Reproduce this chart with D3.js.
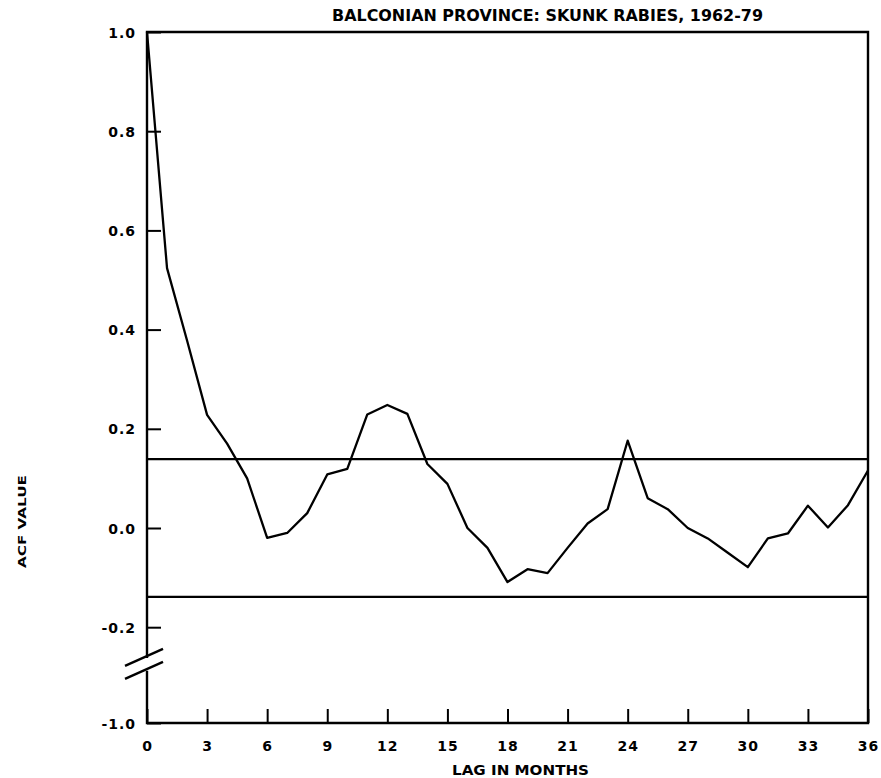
<!DOCTYPE html>
<meta charset="utf-8">
<script type="text/javascript" src="https://cdn.jsdelivr.net/npm/d3@7/dist/d3.min.js"></script>
<style>
    body { margin: 0; background: white; }
    .line { stroke: black; stroke-width: 2.3; fill: none; stroke-linejoin: round; }
    .frame { stroke: black; stroke-width: 2.4; fill: none; }
    .lab { font-family: "DejaVu Sans", sans-serif; font-weight: bold; fill: black; }
</style>
<body>
<script>

    // lag (months) and autocorrelation
    var lags = [0, 1, 2, 3, 4, 5, 6, 7, 8, 9, 10, 11, 12, 13, 14, 15, 16, 17, 18,
                19, 20, 21, 22, 23, 24, 25, 26, 27, 28, 29, 30, 31, 32, 33, 34, 35, 36]
    var acf = [1.0, 0.524, 0.378, 0.228, 0.170, 0.100, -0.020, -0.010, 0.030, 0.108,
               0.119, 0.229, 0.248, 0.230, 0.129, 0.089, 0.000, -0.040, -0.109, -0.083,
               -0.091, -0.040, 0.009, 0.038, 0.176, 0.060, 0.038, 0.000, -0.021, -0.050,
               -0.079, -0.021, -0.011, 0.045, 0.001, 0.046, 0.116]
    var bounds = [0.139, -0.139]
    var xTicks = [0, 3, 6, 9, 12, 15, 18, 21, 24, 27, 30, 33, 36]
    var yTicks = [-1.0, -0.2, 0.0, 0.2, 0.4, 0.6, 0.8, 1.0]
    var title = "BALCONIAN PROVINCE: SKUNK RABIES, 1962-79"

    var W = 881, H = 778
    var pLeft = 147, pRight = 868, pTop = 32, pBottom = 723

    var x = d3.scaleLinear().domain([0, 36]).range([pLeft, pRight])
    // broken axis: -1.0 sits just under the break
    var y = d3.scaleLinear().domain([-1, -0.3, 1]).range([pBottom, 676.8, pTop])

    var svg = d3.select("body").append("svg").attr("width", W).attr("height", H)

    // frame (left side drawn by hand because of the break)
    var brkTop = y(-0.262), brkBot = y(-0.288)
    svg.append("path").attr("class", "frame")
        .attr("d", "M" + pLeft + "," + brkTop + "V" + pTop + "H" + pRight + "V" + pBottom + "H" + pLeft + "V" + brkBot)
    svg.append("line").attr("class", "frame").attr("x1", pLeft - 22).attr("y1", brkTop + 8).attr("x2", pLeft + 16).attr("y2", brkTop - 9)
    svg.append("line").attr("class", "frame").attr("x1", pLeft - 22).attr("y1", brkBot + 8).attr("x2", pLeft + 16).attr("y2", brkBot - 9)

    // y ticks inward
    var yAxis = d3.axisLeft(y).tickValues(yTicks).tickSize(-14).tickPadding(11)
        .tickFormat((d) => d.toFixed(1))
    var gy = svg.append("g").attr("transform", "translate(" + pLeft + ",0)").call(yAxis)
    gy.select(".domain").remove()
    gy.selectAll("line").attr("stroke", "black").attr("stroke-width", 2)
    gy.selectAll("text").attr("class", "lab").style("font-size", "14px")
        .style("letter-spacing", "1px").attr("dy", "0.36em")

    // x ticks upward
    var xAxis = d3.axisBottom(x).tickValues(xTicks).tickSize(-14).tickPadding(18)
    var gx = svg.append("g").attr("transform", "translate(0," + pBottom + ")").call(xAxis)
    gx.select(".domain").remove()
    gx.selectAll("line").attr("stroke", "black").attr("stroke-width", 2)
    gx.selectAll("text").attr("class", "lab").style("font-size", "14px")
        .style("letter-spacing", "1px")

    // confidence bounds
    bounds.forEach((b) => {
        svg.append("line").attr("class", "line")
            .attr("x1", x(0)).attr("x2", x(36)).attr("y1", y(b)).attr("y2", y(b))
    })

    // acf line
    var pts = lags.map((l, i) => ({lag: l, v: acf[i]}))
    var line = d3.line().x((d) => x(d.lag)).y((d) => y(d.v))
    svg.append("path").datum(pts).attr("class", "line").attr("d", line)

    // titles
    svg.append("text").attr("class", "lab").attr("x", 332).attr("y", 21)
        .attr("textLength", 431).attr("lengthAdjust", "spacingAndGlyphs")
        .style("font-size", "15px").text(title)
    svg.append("text").attr("class", "lab").attr("x", 452).attr("y", 775)
        .attr("textLength", 137).attr("lengthAdjust", "spacingAndGlyphs")
        .style("font-size", "14px").text("LAG IN MONTHS")
    svg.append("text").attr("class", "lab")
        .attr("transform", "translate(26,568) rotate(-90)")
        .attr("textLength", 93).attr("lengthAdjust", "spacingAndGlyphs")
        .style("font-size", "11px").text("ACF VALUE")

</script>
</body>
</html>
